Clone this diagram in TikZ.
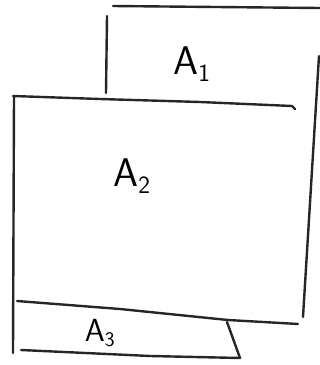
\documentclass[tikz,border=0pt]{standalone}
\usetikzlibrary{positioning}

\begin{document}
\begin{tikzpicture}[
    x=1pt, y=-1pt,
    stroke/.style={line width=2.4pt, line cap=round, line join=round, black!85},
    sheetlabel/.style={font=\fontsize{40}{40}\selectfont\sffamily, inner sep=0pt}
]

% Frame
\useasboundingbox (0,0) rectangle (320,365);

% Sheet A1 (back)
\draw[stroke] (113,6) -- (320,8);
\draw[stroke] (107,16) -- (106,93);
\draw[stroke] (319,56) -- (303,317);
\node[sheetlabel] (a1) at (192,64) {A$_{\mathsf{1}}$};

% Sheet A2 (middle)
\draw[stroke] (13,96) -- (100,99) -- (200,102) -- (292,106) -- (295,109);
\draw[stroke] (14,96) -- (13,353);
\draw[stroke] (17,301) -- (120,309) -- (228,320) -- (298,324);
\node[sheetlabel] (a2) at (132,176) {A$_{\mathsf{2}}$};

% Sheet A3 (front)
\draw[stroke] (227,322) -- (240,358);
\draw[stroke] (21,350) -- (150,356) -- (240,358);
\node[sheetlabel, font=\fontsize{32}{32}\selectfont\sffamily] (a3) at (100,333) {A$_{\mathsf{3}}$};

\end{tikzpicture}
\end{document}
